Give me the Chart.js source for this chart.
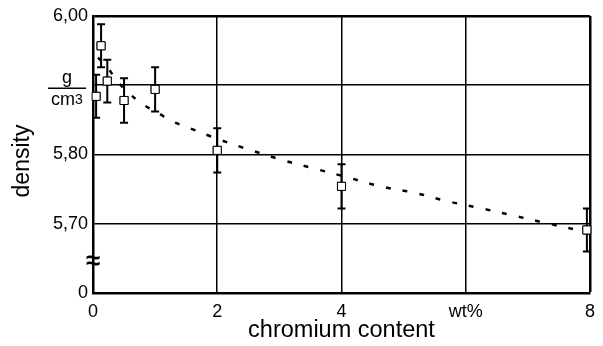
<!DOCTYPE html>
<html>
<head>
<meta charset="utf-8">
<script src="https://cdn.jsdelivr.net/npm/chart.js@4.4.0/dist/chart.umd.min.js"></script>
<style>
  html, body { margin: 0; padding: 0; background: #fff; }
  #wrap { width: 603px; height: 346px; }
</style>
</head>
<body>
<div id="wrap"><canvas id="densityChart"></canvas></div>
<script>
// measured points (chromium wt%, density g/cm3) and error half-width
const chromium = [0.05, 0.13, 0.23, 0.5, 1.0, 2.0, 4.0, 7.95];
const density = [5.884, 5.957, 5.906, 5.878, 5.894, 5.806, 5.754, 5.691];
const errHalf = [0.031, 0.031, 0.031, 0.032, 0.032, 0.032, 0.032, 0.031];

// dashed trend curve
const trendX = [0.08, 0.23, 0.39, 0.56, 0.81, 1.03, 1.27, 1.53, 2.02, 2.55, 3.05, 3.55, 4.1, 4.63, 5.16, 5.68, 6.21, 6.76, 7.29, 7.81, 7.95];
const trendY = [5.940, 5.926, 5.906, 5.890, 5.872, 5.861, 5.848, 5.839, 5.822, 5.806, 5.792, 5.780, 5.767, 5.754, 5.745, 5.733, 5.723, 5.712, 5.701, 5.691, 5.689];

// tick labels
const xTickLabels = { 0: '0', 2: '2', 4: '4', 6: 'wt%', 8: '8' };
const yTickLabels = { 560: '0', 570: '5,70', 580: '5,80', 590: '', 600: '6,00' };

const FONT = "'Liberation Sans', Arial, sans-serif";

// error bars, unit label, titles and axis break
const extras = {
    id: 'extras',
    afterDatasetsDraw(chart) {
        const ctx = chart.ctx;
        const xs = chart.scales.x, ys = chart.scales.y;
        ctx.save();
        ctx.strokeStyle = '#000';
        ctx.lineWidth = 2;
        chromium.forEach((c, i) => {
            const px = xs.getPixelForValue(c);
            const top = ys.getPixelForValue(density[i] + errHalf[i]);
            const bot = ys.getPixelForValue(density[i] - errHalf[i]);
            ctx.beginPath();
            ctx.moveTo(px, top); ctx.lineTo(px, bot);
            ctx.moveTo(px - 4, top); ctx.lineTo(px + 4, top);
            ctx.moveTo(px - 4, bot); ctx.lineTo(px + 4, bot);
            ctx.stroke();
        });
        ctx.restore();
        // redraw markers on top of the bars
        chart.getDatasetMeta(1).data.forEach(p => p.draw(ctx, chart.chartArea));
    },
    afterDraw(chart) {
        const ctx = chart.ctx;
        const ys = chart.scales.y;
        const area = chart.chartArea;
        const yUnit = ys.getPixelForValue(5.9);
        ctx.save();
        ctx.fillStyle = '#000';
        ctx.strokeStyle = '#000';
        // g / cm3
        ctx.lineWidth = 1.5;
        ctx.beginPath();
        ctx.moveTo(48, yUnit + 3); ctx.lineTo(86, yUnit + 3);
        ctx.stroke();
        ctx.font = '18px ' + FONT;
        ctx.textAlign = 'center';
        ctx.textBaseline = 'alphabetic';
        ctx.fillText('g', 67, yUnit - 2);
        ctx.textAlign = 'left';
        ctx.fillText('cm', 51, yUnit + 20);
        ctx.font = '14px ' + FONT;
        ctx.fillText('3', 75, yUnit + 19);
        // x title
        ctx.font = '23.5px ' + FONT;
        ctx.textAlign = 'center';
        ctx.textBaseline = 'middle';
        ctx.fillText('chromium content', (area.left + area.right) / 2, 331);
        // y title
        ctx.font = '23px ' + FONT;
        ctx.translate(23, 161);
        ctx.rotate(-Math.PI / 2);
        ctx.fillText('density', 0, 0);
        ctx.setTransform(1, 0, 0, 1, 0, 0);
        // axis break
        const yBreak = (ys.getPixelForValue(5.7) + ys.getPixelForValue(5.6)) / 2 + 3;
        ctx.font = 'bold 26px ' + FONT;
        ctx.fillText('\u2248', area.left, yBreak);
        ctx.restore();
    }
};

// Vẽ biểu đồ
const ctx = document.getElementById('densityChart').getContext('2d');
const chart = new Chart(ctx, {
    type: 'scatter',
    data: {
        datasets: [{
            label: 'trend',
            type: 'line',
            data: trendX.map((x, i) => ({ x: x, y: trendY[i] })),
            borderColor: '#000',
            borderWidth: 2.5,
            borderDash: [5, 12],
            pointRadius: 0,
            tension: 0.4,
            fill: false,
            order: 2
        }, {
            label: 'density',
            data: chromium.map((x, i) => ({ x: x, y: density[i] })),
            pointStyle: 'rect',
            pointRadius: 5.7,
            pointBackgroundColor: '#fff',
            pointBorderColor: '#000',
            pointBorderWidth: 1,
            order: 1
        }]
    },
    options: {
        responsive: true,
        maintainAspectRatio: false,
        animation: false,
        layout: { padding: { left: 0, top: 16, right: 12, bottom: 0 } },
        plugins: { legend: { display: false }, tooltip: { enabled: false } },
        scales: {
            x: {
                type: 'linear',
                min: 0, max: 8,
                afterFit: s => { s.height = 53; },
                ticks: {
                    stepSize: 2,
                    color: '#000',
                    font: { family: FONT, size: 18 },
                    padding: 8,
                    maxRotation: 0,
                    callback: v => xTickLabels[v] !== undefined ? xTickLabels[v] : ''
                },
                grid: {
                    color: '#000',
                    lineWidth: c => (c.tick && c.tick.value === 8) ? 2.5 : 1.5,
                    drawTicks: false
                },
                border: { display: true, color: '#000', width: 2.5 }
            },
            y: {
                min: 5.6, max: 6.0,
                afterFit: s => { s.width = 93; },
                ticks: {
                    stepSize: 0.1,
                    color: '#000',
                    font: { family: FONT, size: 18 },
                    padding: 5,
                    callback: v => {
                        const k = Math.round(v * 100);
                        return yTickLabels[k] !== undefined ? yTickLabels[k] : '';
                    }
                },
                grid: {
                    color: '#000',
                    lineWidth: c => (c.tick && Math.round(c.tick.value * 100) === 600) ? 2.5 : 1.5,
                    drawTicks: false
                },
                border: { display: true, color: '#000', width: 2.5 }
            }
        }
    },
    plugins: [extras]
});
</script>
</body>
</html>
